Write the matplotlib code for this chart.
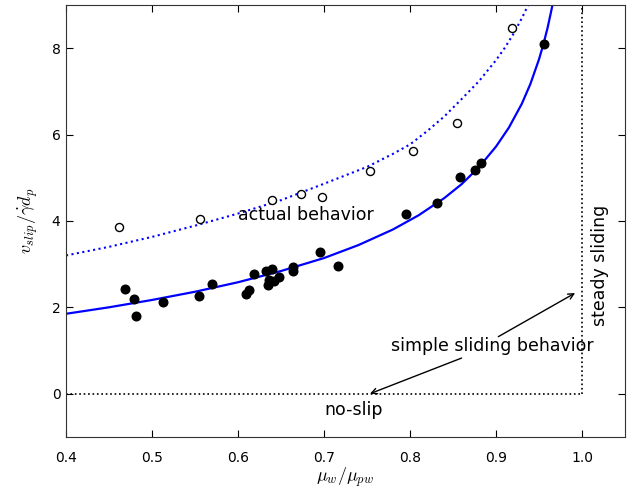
import matplotlib
matplotlib.use('Agg')
import matplotlib.pyplot as plt

plt.rcParams['mathtext.fontset'] = 'cm'
plt.rcParams['font.size'] = 10

# measured slip velocity, simulations with steady sliding (filled) and actual runs (open)
x_filled = [0.469, 0.4795, 0.4814, 0.5124, 0.5543, 0.5698, 0.6093, 0.6132, 0.6182,
            0.6326, 0.6392, 0.6345, 0.6364, 0.6422, 0.6480, 0.6636, 0.6643, 0.6953,
            0.7159, 0.7953, 0.8310, 0.8581, 0.8756, 0.8822, 0.9558]
y_filled = [2.42, 2.19, 1.80, 2.13, 2.27, 2.53, 2.30, 2.40, 2.77,
            2.83, 2.89, 2.52, 2.64, 2.61, 2.69, 2.93, 2.85, 3.28,
            2.96, 4.15, 4.42, 5.02, 5.18, 5.33, 8.09]
x_open = [0.4612, 0.5558, 0.6399, 0.6729, 0.6977, 0.7535, 0.8039, 0.8543, 0.9183]
y_open = [3.87, 4.05, 4.48, 4.62, 4.55, 5.16, 5.61, 6.26, 8.46]

# simple sliding model (solid) and actual behaviour (dotted)
x_model = [0.40, 0.45, 0.50, 0.55, 0.60, 0.65, 0.70, 0.74, 0.78, 0.81, 0.84, 0.86,
           0.88, 0.90, 0.915, 0.93, 0.94, 0.95, 0.955, 0.96, 0.965, 0.968]
y_model = [1.85, 2.00, 2.17, 2.36, 2.58, 2.84, 3.14, 3.44, 3.80, 4.13, 4.53, 4.85,
           5.24, 5.72, 6.16, 6.71, 7.17, 7.74, 8.08, 8.47, 8.93, 9.24]
x_actual = [0.40, 0.45, 0.50, 0.55, 0.60, 0.65, 0.70, 0.75, 0.78, 0.80, 0.82, 0.84,
            0.86, 0.88, 0.90, 0.91, 0.92, 0.93, 0.938, 0.941]
y_actual = [3.20, 3.40, 3.63, 3.89, 4.17, 4.48, 4.86, 5.25, 5.55, 5.77, 6.08, 6.42,
            6.82, 7.23, 7.72, 8.00, 8.32, 8.69, 9.02, 9.16]

fig = plt.figure(figsize=(6.41, 4.92), dpi=100)
ax = fig.add_axes([0.103, 0.112, 0.872, 0.878])

ax.plot(x_model, y_model, '-', color='blue', lw=1.6)
ax.plot(x_actual, y_actual, ':', color='blue', lw=1.5)
ax.plot(x_filled, y_filled, 'o', color='black', ms=6.2)
ax.plot(x_open, y_open, 'o', mfc='white', mec='black', mew=1, ms=5.8)

# no-slip and steady sliding limits
ax.plot([0.4, 1.0], [0, 0], ':', color='black', lw=1.2)
ax.plot([1.0, 1.0], [0, 9], ':', color='black', lw=1.2)

fs = 12.5
ax.text(0.679, 4.14, 'actual behavior', ha='center', va='center', fontsize=fs)
ax.text(0.735, -0.37, 'no-slip', ha='center', va='center', fontsize=fs)
ax.text(1.021, 2.96, 'steady sliding', ha='center', va='center', rotation=90, fontsize=fs)
ax.text(0.896, 1.11, 'simple sliding behavior', ha='center', va='center', fontsize=fs)
ax.annotate('', xy=(0.7535, 0), xytext=(0.860, 0.825),
            arrowprops=dict(arrowstyle='->', color='black', lw=1, shrinkA=0, shrinkB=0))
ax.annotate('', xy=(0.992, 2.33), xytext=(0.9027, 1.32),
            arrowprops=dict(arrowstyle='->', color='black', lw=1, shrinkA=0, shrinkB=0))

ax.set_xlim(0.4, 1.05)
ax.set_ylim(-1, 9)
ax.set_xticks([0.4, 0.5, 0.6, 0.7, 0.8, 0.9, 1.0])
ax.set_yticks([0, 2, 4, 6, 8])
ax.tick_params(direction='in', top=True, right=True, length=5, width=0.8)
ax.tick_params(axis='x', pad=10)
ax.tick_params(axis='y', pad=4)
for s in ax.spines.values():
    s.set_color('#333333')
ax.set_xlabel(r'$\mu_w/\mu_{pw}$', fontsize=13, labelpad=1)
ax.set_ylabel(r'$v_{slip}/\dot{\gamma}d_p$', fontsize=13, labelpad=8)

fig.savefig('out.png', dpi=100)
